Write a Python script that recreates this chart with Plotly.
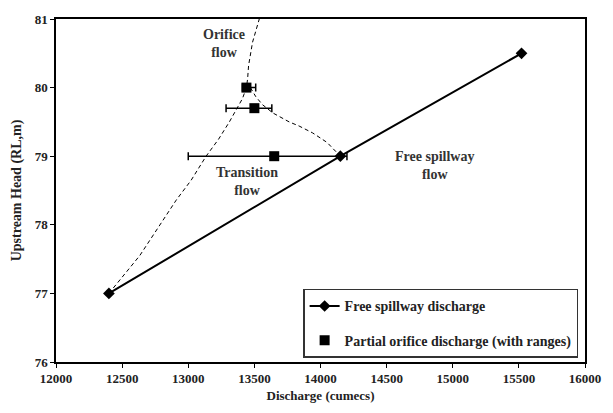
import plotly.graph_objects as go

# Free spillway rating
free_q = [12400, 14150, 15520]
free_h = [77.0, 79.0, 80.5]

# Partial orifice discharge with observed ranges
orif_q = [13440, 13500, 13650]
orif_h = [80.0, 79.7, 79.0]
orif_plus = [70, 132, 550]
orif_minus = [30, 214, 650]

# Boundary of the orifice flow region (left dashed curve)
orif_bound_q = [12400, 12633, 12909, 13022, 13135, 13230, 13311, 13361, 13410, 13440, 13449, 13456, 13486, 13537]
orif_bound_h = [77.0, 77.55, 78.36, 78.65, 79.0, 79.25, 79.5, 79.67, 79.84, 80.0, 80.13, 80.32, 80.66, 81.0]

# Boundary of the free spillway region (right dashed curve)
free_bound_q = [13470, 13510, 13562, 13640, 13763, 13838, 13940, 14050, 14150]
free_bound_h = [80.0, 79.87, 79.75, 79.63, 79.5, 79.44, 79.34, 79.2, 79.0]

# Region labels
region_text = ["Orifice<br>flow", "Transition<br>flow", "Free spillway<br>flow"]
region_q = [13273, 13446, 14863]
region_h = [80.65, 78.63, 78.86]

FONT = "Liberation Serif"
INK = "#222"

fig = go.Figure()

for bq, bh in ((orif_bound_q, orif_bound_h), (free_bound_q, free_bound_h)):
    fig.add_trace(go.Scatter(
        x=bq, y=bh, mode="lines",
        line=dict(color="black", width=1, dash="4px,3px"),
        showlegend=False, hoverinfo="skip"))

fig.add_trace(go.Scatter(
    x=free_q, y=free_h, mode="lines+markers", name="Free spillway discharge",
    legendgroup="free",
    line=dict(color="black", width=2),
    marker=dict(symbol="diamond", size=9, color="black")))

fig.add_trace(go.Scatter(
    x=orif_q, y=orif_h, mode="markers", name="Partial orifice discharge (with ranges)",
    legendgroup="orif",
    marker=dict(symbol="square", size=10, color="black"),
    error_x=dict(type="data", symmetric=False, array=orif_plus, arrayminus=orif_minus,
                 color="black", thickness=1.5, width=4)))

for t, q, h in zip(region_text, region_q, region_h):
    fig.add_annotation(x=q, y=h, text=t, showarrow=False,
                       font=dict(family=FONT, size=14, color="#333", weight="bold"))

axis_common = dict(showline=True, linecolor="black", linewidth=1.5, mirror=True,
                   ticks="outside", ticklen=4, tickcolor="black", showgrid=False,
                   zeroline=False, tickfont=dict(family=FONT, size=13, color=INK, weight="bold"))

fig.update_xaxes(range=[12000, 16000], dtick=500, tickformat="d",
                 title=dict(text="Discharge (cumecs)", standoff=6,
                            font=dict(family=FONT, size=13, color=INK, weight="bold")),
                 **axis_common)
fig.update_yaxes(range=[76, 81], dtick=1,
                 title=dict(text="Upstream Head (RL,m)", standoff=10,
                            font=dict(family=FONT, size=14, color=INK, weight="bold")),
                 **axis_common)

fig.update_layout(
    width=613, height=413,
    margin=dict(l=56, r=26, t=16, b=49),
    plot_bgcolor="white", paper_bgcolor="white",
    font=dict(family=FONT, color=INK, weight="bold"),
    legend=dict(x=0.987, y=0.012, xanchor="right", yanchor="bottom",
                bgcolor="white", bordercolor="#333", borderwidth=1.5,
                font=dict(family=FONT, size=14, color=INK, weight="bold"),
                tracegroupgap=13),
)

fig.write_html("out.html")
